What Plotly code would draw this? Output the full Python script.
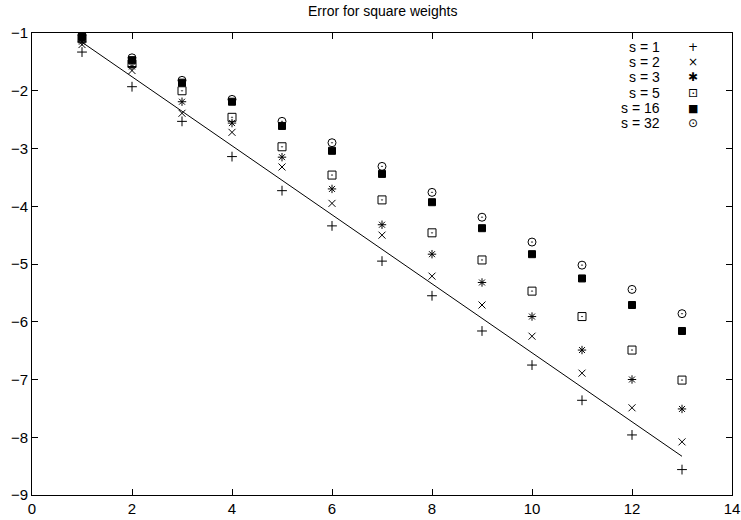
import plotly.graph_objects as go

x_vals = [1, 2, 3, 4, 5, 6, 7, 8, 9, 10, 11, 12, 13]
s1 = [-1.33, -1.93, -2.53, -3.14, -3.73, -4.34, -4.95, -5.55, -6.16, -6.75, -7.36, -7.96, -8.56]
s2 = [-1.20, -1.65, -2.39, -2.72, -3.32, -3.95, -4.50, -5.21, -5.71, -6.25, -6.89, -7.49, -8.08]
s3 = [-1.15, -1.58, -2.19, -2.56, -3.15, -3.70, -4.32, -4.83, -5.32, -5.91, -6.49, -7.00, -7.51]
s5 = [-1.10, -1.53, -2.00, -2.46, -2.97, -3.46, -3.89, -4.46, -4.93, -5.47, -5.91, -6.49, -7.01]
s16 = [-1.07, -1.47, -1.86, -2.19, -2.61, -3.04, -3.44, -3.93, -4.38, -4.83, -5.25, -5.71, -6.16]
s32 = [-1.03, -1.43, -1.82, -2.15, -2.53, -2.90, -3.31, -3.76, -4.19, -4.62, -5.02, -5.44, -5.86]
line_x = [1, 13]
line_y = [-1.16, -8.33]

labels = ["s = 1", "s = 2", "s = 3", "s = 5", "s = 16", "s = 32"]
series = [s1, s2, s3, s5, s16, s32]
symbols = ["cross-thin-open", "x-thin-open", "asterisk-open", "square-open-dot", "square", "circle-open-dot"]
sizes = [7, 7, 7, 8, 7, 8]
legend_glyphs = ["+", "×", "✱", "⊡", "■", "⊙"]

font = "Liberation Sans, Arial, Helvetica, sans-serif"

fig = go.Figure()
fig.add_trace(go.Scatter(x=line_x, y=line_y, mode="lines",
                         line=dict(color="black", width=1), showlegend=False))
for lab, ys, sym, sz in zip(labels, series, symbols, sizes):
    fig.add_trace(go.Scatter(
        x=x_vals, y=ys, mode="markers", name=lab, showlegend=False,
        marker=dict(symbol=sym, size=sz, color="black",
                    line=dict(color="black", width=1))))

annotations = [dict(xref="paper", yref="paper", x=0.5, y=1 + 22 / 462,
                    text="Error for square weights", showarrow=False,
                    xanchor="center", yanchor="middle",
                    font=dict(family=font, size=14, color="black"))]
for i, (lab, g) in enumerate(zip(labels, legend_glyphs)):
    ypos = 0.970 - i * 0.0331
    annotations.append(dict(xref="paper", yref="paper", x=0.8996, y=ypos,
                            text=lab, showarrow=False, xanchor="right", yanchor="middle",
                            font=dict(family=font, size=14, color="black")))
    annotations.append(dict(xref="paper", yref="paper", x=0.944, y=ypos,
                            text=g, showarrow=False, xanchor="center", yanchor="middle",
                            font=dict(family="DejaVu Sans", size=12 if g != "■" else 11, color="black")))

axis_common = dict(showgrid=False, zeroline=False, showline=True, linecolor="black",
                   linewidth=1, mirror="ticks", ticks="inside", ticklen=6,
                   tickcolor="black", automargin=False,
                   tickfont=dict(family=font, size=15, color="black"))

fig.update_layout(
    width=741, height=520,
    margin=dict(l=32, r=9, t=33, b=25, autoexpand=False),
    paper_bgcolor="white", plot_bgcolor="white",
    xaxis=dict(range=[0, 14], dtick=2, tick0=0, **axis_common),
    yaxis=dict(range=[-9, -1], dtick=1, tick0=-9, **axis_common),
    annotations=annotations,
    showlegend=False,
)

fig.write_html("out.html", config={"displayModeBar": False},
               post_script="document.body.style.margin='0px';")
